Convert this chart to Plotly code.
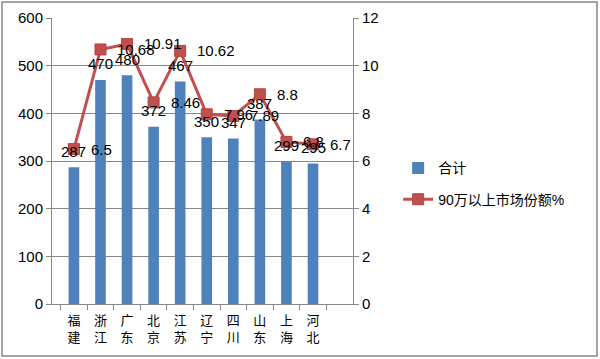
import plotly.graph_objects as go

provinces = ["福建", "浙江", "广东", "北京", "江苏", "辽宁", "四川", "山东", "上海", "河北"]
totals = [287, 470, 480, 372, 467, 350, 347, 387, 299, 295]
share = [6.5, 10.68, 10.91, 8.46, 10.62, 7.96, 7.89, 8.8, 6.8, 6.7]
left_ticks = [0, 100, 200, 300, 400, 500, 600]
right_ticks = [0, 2, 4, 6, 8, 10, 12]

tick_text = ["<br>".join(list(p)) for p in provinces]

FONT = "Liberation Sans, Noto Sans CJK SC, sans-serif"

fig = go.Figure()
fig.add_trace(go.Bar(
    x=provinces, y=totals, name="合计", legendgroup="a",
    marker=dict(color="#4F81BD", line=dict(width=0)),
))
fig.add_trace(go.Scatter(
    x=provinces, y=share, name="90万以上市场份额%", yaxis="y2", legendgroup="b",
    mode="lines+markers",
    line=dict(color="#C0504D", width=3),
    marker=dict(symbol="square", size=11, color="#C0504D", line=dict(color="#B54542", width=1)),
))

annotations = []
for p, v in zip(provinces, totals):
    annotations.append(dict(x=p, y=v, xref="x", yref="y", text=str(v), showarrow=False,
                            yshift=16, font=dict(size=15, color="#000000", family=FONT)))
for p, v in zip(provinces, share):
    annotations.append(dict(x=p, y=v, xref="x", yref="y2", text=f"{v:g}", showarrow=False,
                            xanchor="left", xshift=15,
                            font=dict(size=15, color="#000000", family=FONT)))

fig.update_layout(
    width=600, height=359,
    margin=dict(l=52, r=247, t=18, b=55),
    paper_bgcolor="white", plot_bgcolor="white",
    font=dict(family=FONT, size=15, color="#000000"),
    bargap=0.6,
    showlegend=True,
    annotations=annotations,
    legend=dict(x=1.15, y=0.53, xanchor="left", yanchor="top",
                font=dict(size=14, family=FONT), bgcolor="rgba(0,0,0,0)",
                tracegroupgap=10, itemwidth=30),
    xaxis=dict(
        tickmode="array", tickvals=provinces, ticktext=tick_text,
        showline=True, linecolor="#868686", linewidth=1,
        ticks="outside", ticklen=5, tickcolor="#868686",
        tickson="boundaries", showgrid=False, automargin=False,
        ticklabelstandoff=4,
        tickfont=dict(size=13, family="Noto Sans CJK SC"),
    ),
    yaxis=dict(
        range=[0, 600], tickvals=left_ticks,
        showline=True, linecolor="#868686", linewidth=1,
        ticks="outside", ticklen=5, tickcolor="#868686",
        showgrid=True, gridcolor="#868686", gridwidth=1,
        zeroline=False, tickfont=dict(size=15), automargin=False,
    ),
    yaxis2=dict(
        range=[0, 12], tickvals=right_ticks, overlaying="y", side="right",
        showline=True, linecolor="#868686", linewidth=1,
        ticks="outside", ticklen=5, tickcolor="#868686",
        showgrid=False, zeroline=False, tickfont=dict(size=15), automargin=False,
    ),
    shapes=[dict(type="rect", xref="paper", yref="paper",
                 x0=(2 - 52) / 301, x1=(597 - 52) / 301,
                 y0=(304 - 356) / 286, y1=(304 - 2) / 286,
                 line=dict(color="#868686", width=1.5), fillcolor="rgba(0,0,0,0)",
                 layer="below")],
)

fig.write_html("out.html", post_script="document.body.style.margin='0';",
               config={"displayModeBar": False})
